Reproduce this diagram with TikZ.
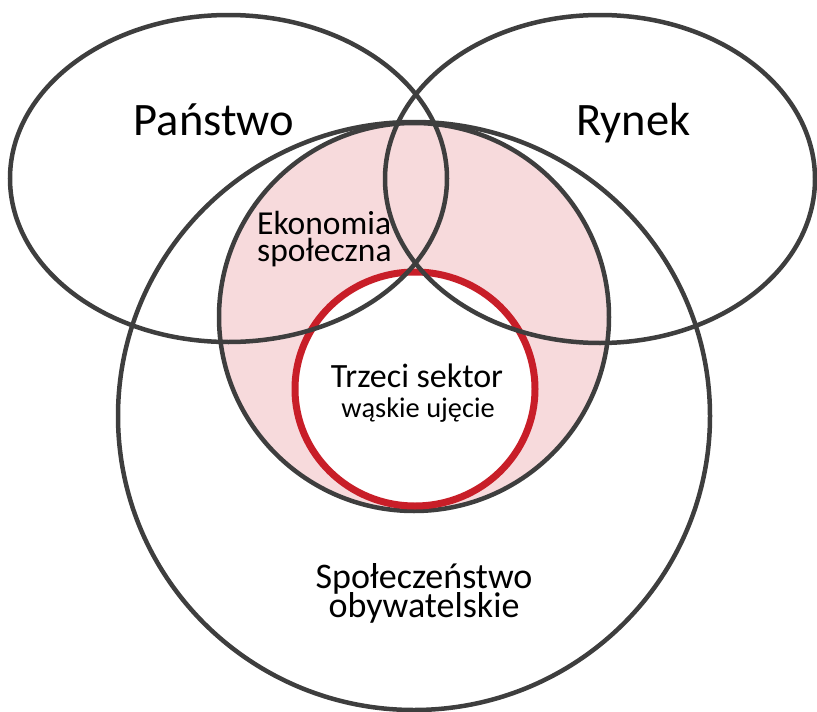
\documentclass[tikz,border=0pt]{standalone}
\usepackage{fontspec}
\setmainfont{Carlito}
\definecolor{linegray}{RGB}{62,62,62}
\definecolor{ringred}{RGB}{200,30,40}
\definecolor{softpink}{RGB}{247,218,220}
\tikzset{
  outline/.style={draw=linegray, line width=4.5pt},
  redring/.style={draw=ringred, line width=7pt},
  bigtext/.style={font=\fontsize{46.5}{46.5}\selectfont, anchor=base, inner sep=0pt},
  ekotext/.style={font=\fontsize{33.5}{33.5}\selectfont, anchor=base west, inner sep=0pt, text depth=0pt},
  trztext/.style={font=\fontsize{34}{34}\selectfont, anchor=base, inner sep=0pt},
  soctext/.style={font=\fontsize{36}{36}\selectfont, anchor=base, inner sep=0pt},
  smalltext/.style={font=\fontsize{28.4}{28.4}\selectfont, anchor=base, inner sep=0pt}
}
\begin{document}
\begin{tikzpicture}[x=1pt,y=-1pt]
\useasboundingbox (0,0) rectangle (817,712);
% pink region (ekonomia spoleczna)
\fill[softpink] (414,317) ellipse [x radius=195, y radius=194];
\fill[white] (415,389) ellipse [x radius=120, y radius=117];
\draw[outline] (414,317) ellipse [x radius=195, y radius=194];
% third sector (narrow)
\draw[redring] (415,389) ellipse [x radius=120, y radius=117];
% state and market
\draw[outline] (228.5,178.5) ellipse [x radius=218.5, y radius=163.5];
\draw[outline] (600,179) ellipse [x radius=215, y radius=164];
% civil society
\draw[outline] (414,416) ellipse [x radius=296, y radius=294];
% labels
\node[bigtext] (panstwo) at (214,135) {Państwo};
\node[bigtext] (rynek) at (633.5,135) {Rynek};
\node[ekotext] (ekon1) at (257,234) {Ekonomia};
\node[ekotext] (ekon2) at (257,261) {społeczna};
\node[trztext] (trzeci) at (417,387) {Trzeci sektor};
\node[smalltext] (waskie) at (418,417) {wąskie ujęcie};
\node[soctext, text depth=0pt] (spol1) at (424,588) {Społeczeństwo};
\node[soctext] (spol2) at (424,617) {obywatelskie};
\end{tikzpicture}
\end{document}
